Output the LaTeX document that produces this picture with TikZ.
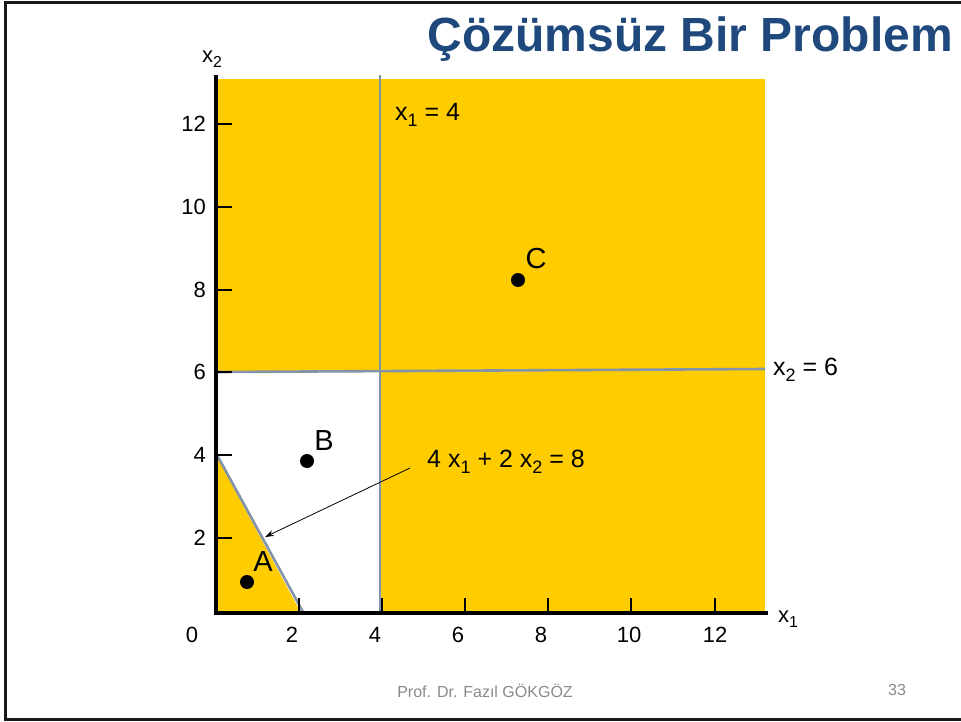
\documentclass[tikz,border=0pt]{standalone}
\usepackage{fontspec}
\setmainfont{Liberation Sans}
\usetikzlibrary{arrows.meta}
\definecolor{fillyel}{HTML}{FFCC00}
\definecolor{cline}{HTML}{8393A8}
\definecolor{ttl}{HTML}{1F497D}
\definecolor{foot}{HTML}{898989}
\newcommand\lsb[1]{\raisebox{-0.45ex}{\scalebox{0.72}{#1}}}
\tikzset{
  cl/.style={draw=cline, line width=2.6pt},
  axis/.style={draw=black, line width=3.6pt},
  tck/.style={draw=black, line width=2.4pt},
  ticklab/.style={font=\fontsize{22}{24}\selectfont, inner sep=0pt},
  eqlab/.style={font=\fontsize{25}{27}\selectfont, inner sep=0pt, anchor=west},
  ptlab/.style={font=\fontsize{29}{31}\selectfont, inner sep=0pt},
  dot/.style={circle, fill=black, inner sep=0pt, minimum size=14pt},
}
\begin{document}
\begin{tikzpicture}[x=1pt,y=-1pt]
\useasboundingbox (0,0) rectangle (961,722);
% border
\draw[line width=3pt, black!90] (961,3) -- (5,3) -- (5,719) -- (961,719);
% yellow regions
\fill[fillyel] (216,79) rectangle (765,372);
\fill[fillyel] (380,372) rectangle (765,613);
\fill[fillyel] (216,455) -- (216,613) -- (301,613) -- cycle;
% constraint lines
\coordinate (v1) at (380,75);
\coordinate (v2) at (380,613);
\draw[cl] (v1) -- (v2);
\coordinate (h1) at (218,372);
\coordinate (h2) at (765,369);
\draw[cl] (h1) -- (h2);
\coordinate (d1) at (217,455);
\coordinate (d2) at (303,612);
\draw[cl] (d1) -- (d2);
% axes
\coordinate (O) at (216,613);
\coordinate (ytop) at (216,75);
\coordinate (xend) at (768,613);
\draw[axis] (ytop) -- (O) -- (xend);
% y ticks
\foreach \yy/\lab in {124/12,207/10,290/8,372/6,455/4,538/2}{
  \draw[tck] (216,\yy) -- (232,\yy);
  \node[ticklab, anchor=east] (yl\lab) at (206,\yy) {\lab};
}
% x ticks
\foreach \xx in {299,382,465,548,631,715}{
  \draw[tck] (\xx,613) -- (\xx,598);
}
\foreach \xx/\lab in {192/0,292/2,375/4,458/6,541/8,629/10,715/12}{
  \node[ticklab] (xl\lab) at (\xx,635) {\lab};
}
% axis labels
\node[ticklab] (x1lab) at (788,619) {x\lsb{1}};
\node[ticklab] (x2lab) at (212,59) {x\lsb{2}};
% equation labels
\node[eqlab] (e1) at (395,115) {x\lsb{1} = 4};
\node[eqlab] (e2) at (773,370) {x\lsb{2} = 6};
\node[eqlab] (e3) at (427,462) {4 x\lsb{1} + 2 x\lsb{2} = 8};
% arrow
\coordinate (as) at (410,468);
\coordinate (at) at (265,537);
\draw[-{Stealth[length=9pt,width=6pt]}, line width=0.8pt] (as) -- (at);
% points
\node[dot] (A) at (247,582) {};
\node[ptlab] (Al) at (263,562) {A};
\node[dot] (B) at (307,461) {};
\node[ptlab] (Bl) at (324,441) {B};
\node[dot] (C) at (518,280) {};
\node[ptlab] (Cl) at (536,259) {C};
% title
\node[font=\fontsize{48}{51}\selectfont\bfseries, text=ttl, anchor=east, inner sep=0pt] (title) at (953,39) {Çözümsüz Bir Problem};
% footer
\node[font=\fontsize{16}{18}\selectfont, text=foot, inner sep=0pt] (footer) at (485,691) {Prof. Dr. Fazıl GÖKGÖZ};
\node[font=\fontsize{16}{18}\selectfont, text=foot, inner sep=0pt] (pg) at (897,690) {33};
\end{tikzpicture}
\end{document}
